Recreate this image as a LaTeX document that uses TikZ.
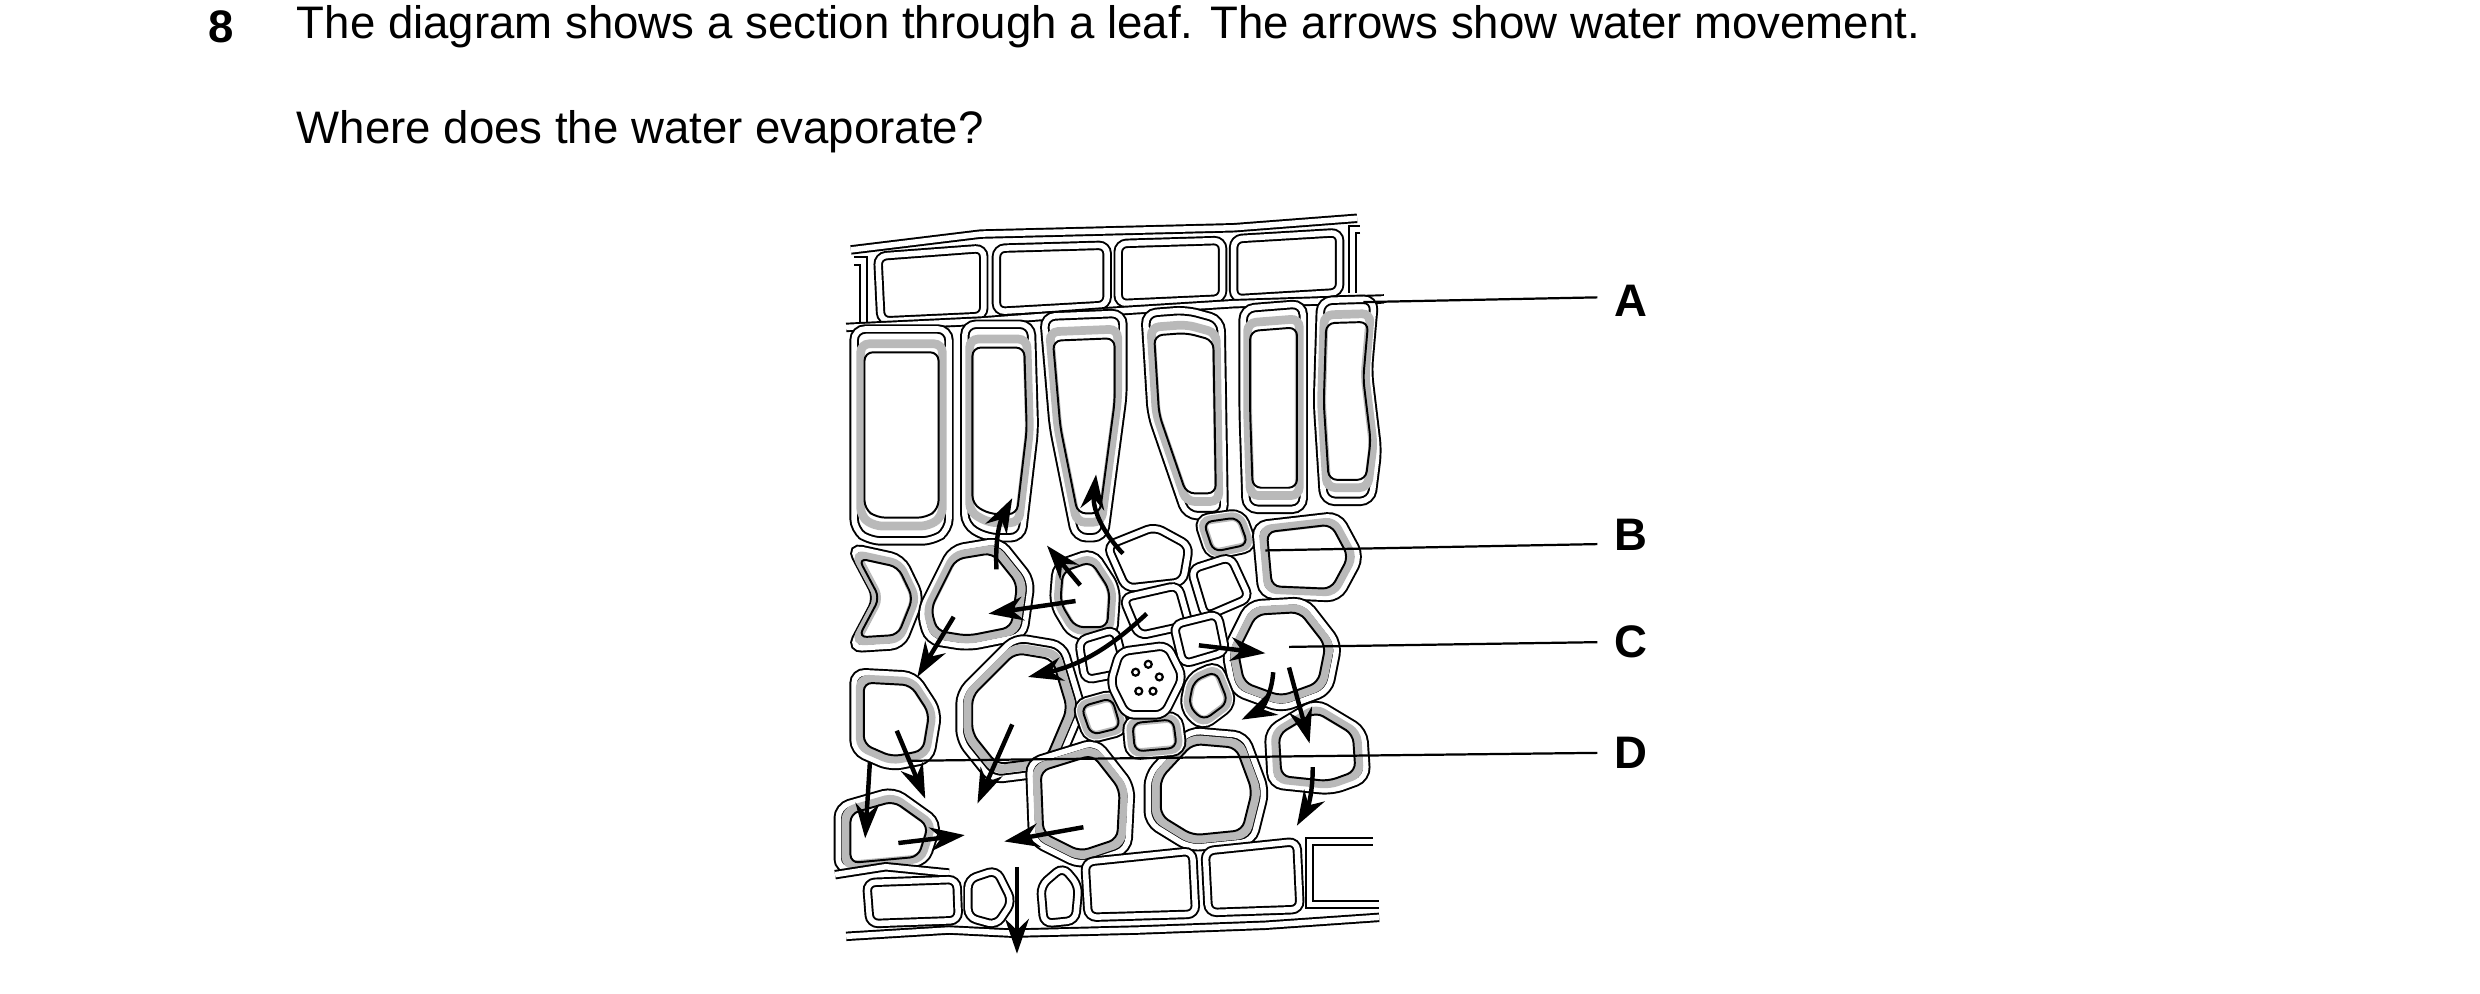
\documentclass[tikz,border=0pt]{standalone}
\usepackage{fontspec}
\setmainfont{Liberation Sans}
\usetikzlibrary{arrows.meta}
\newcommand\cellW[3]{\begin{scope}[shift={(#1,#2)}]\draw[wall,rounded corners=1.5pt] #3 -- cycle;\end{scope}}
\newcommand\cellG[3]{\begin{scope}[shift={(#1,#2)}]\draw[wall,rounded corners=2pt] #3 -- cycle;
\draw[gray!55,line width=0.55mm,rounded corners=1.5pt,scale=0.86] #3 -- cycle;
\draw[line width=0.35pt,rounded corners=1.5pt,scale=0.78] #3 -- cycle;\end{scope}}
\begin{document}
\begin{tikzpicture}[x=0.1mm,y=-0.1mm,
 wall/.style={draw=black,double=white,double distance=0.35mm,line width=0.35pt,fill=white},
 arr/.style={-{Stealth[length=2.2mm,width=1.5mm]},line width=0.8pt},
 lbl/.style={font=\fontsize{8.2}{10}\selectfont\bfseries},
 txt/.style={font=\fontsize{8.2}{10}\selectfont,inner sep=0pt,anchor=west},
 lead/.style={line width=0.4pt}]
\useasboundingbox (0,0) rectangle (1568,628);
\node[lbl,inner sep=0pt,anchor=west] (n8) at (131,17) {8};
\node[txt] (t1) at (187,17) {The diagram shows a section through a leaf. The arrows show water movement.};
\node[txt] (t2) at (187,83) {Where does the water evaporate?};
% upper epidermis
\draw[wall] (538,158) -- (620,148) -- (700,146) -- (780,144) -- (858,138);
\cellW{0}{0}{(555,162) -- (622,157) -- (622,200) -- (557,203)}
\cellW{0}{0}{(630,157) -- (700,155) -- (700,193) -- (630,197)}
\cellW{0}{0}{(707,154) -- (773,152) -- (773,189) -- (707,192)}
\cellW{0}{0}{(780,151) -- (847,147) -- (847,185) -- (780,189)}
\draw[wall] (540,165) -- (546,165) -- (546,205);
\draw[wall] (860,145) -- (855,145) -- (855,185);
\draw[wall] (535,207) -- (620,203) -- (700,197) -- (780,192) -- (875,189);
% palisade
\cellG{570}{275}{(-30,-67) -- (30,-67) -- (30,60) -- (20,67) -- (-20,67) -- (-30,60)}
\cellG{632}{272}{(-22,-67) -- (20,-67) -- (22,0) -- (14,68) -- (-8,68) -- (-22,60)}
\cellG{686}{270}{(-26,-70) -- (24,-72) -- (24,-20) -- (12,70) -- (-6,70) -- (-20,0)}
\cellG{750}{262}{(-26,-64) -- (0,-66) -- (22,-60) -- (24,64) -- (0,64) -- (-22,0)}
\cellG{806}{260}{(-20,-65) -- (18,-68) -- (18,62) -- (-18,62) -- (-20,0)}
\cellG{851}{255}{(-16,-65) -- (18,-66) -- (14,-20) -- (20,30) -- (16,62) -- (-14,62) -- (-18,0)}
% spongy cells
\cellG{560}{378}{(-22,-32) -- (10,-25) -- (22,0) -- (10,30) -- (-22,32) -- (-5,0)}
\cellG{612}{377}{(-30,10) -- (-10,-30) -- (20,-35) -- (40,-10) -- (35,25) -- (0,32) -- (-25,28)}
\cellG{642}{448}{(-35,-10) -- (0,-45) -- (30,-40) -- (42,0) -- (25,40) -- (-15,45) -- (-35,20)}
\cellG{686}{377}{(-18,-20) -- (5,-28) -- (20,-5) -- (18,25) -- (-8,25) -- (-20,5)}
\cellG{775}{338}{(-18,-10) -- (10,-14) -- (18,8) -- (-10,14)}
\cellG{826}{352}{(-32,-20) -- (20,-26) -- (34,0) -- (20,26) -- (-28,24)}
\cellG{810}{412}{(-35,0) -- (-20,-30) -- (15,-32) -- (36,-5) -- (30,25) -- (0,36) -- (-30,25)}
\cellG{832}{472}{(-30,-10) -- (0,-28) -- (30,-10) -- (32,20) -- (10,28) -- (-28,24)}
\cellG{683}{507}{(-32,-25) -- (10,-38) -- (32,-10) -- (30,30) -- (0,40) -- (-30,25)}
\cellG{762}{500}{(-36,-10) -- (-10,-38) -- (25,-35) -- (38,0) -- (30,32) -- (-10,36) -- (-36,20)}
\cellG{568}{455}{(-28,-30) -- (10,-28) -- (25,-5) -- (20,25) -- (-5,30) -- (-28,20)}
\cellG{565}{530}{(-35,-20) -- (0,-30) -- (28,-10) -- (20,15) -- (-35,20)}
% vein and bundle cells
\cellW{0}{0}{(700,345) -- (730,333) -- (752,345) -- (748,368) -- (712,372)}
\cellW{0}{0}{(710,378) -- (745,370) -- (752,395) -- (720,402)}
\cellW{0}{0}{(753,360) -- (778,352) -- (790,378) -- (762,390)}
\cellW{0}{0}{(682,405) -- (705,398) -- (712,425) -- (686,430)}
\cellW{0}{0}{(742,395) -- (770,388) -- (775,412) -- (748,420)}
\cellG{764}{440}{(-12,-12) -- (6,-20) -- (16,5) -- (-4,20) -- (-16,8)}
\cellG{696}{453}{(-16,-8) -- (9,-15) -- (16,9) -- (-8,15)}
\cellG{730}{465}{(-18,-10) -- (15,-13) -- (18,10) -- (-16,13)}
\cellW{0}{0}{(708,412) -- (738,408) -- (748,428) -- (736,452) -- (712,452) -- (702,432)}
\foreach \p in {(718,425),(726,420),(733,428),(720,437),(729,437)} \draw \p circle (2.2);
% lower epidermis
\draw[wall] (528,553) -- (560,548) -- (600,552);
\draw[wall] (535,592) -- (600,588) -- (640,590) -- (720,588) -- (800,585) -- (872,580);
\cellW{0}{0}{(548,558) -- (605,556) -- (606,582) -- (550,584)}
\cellW{0}{0}{(612,556) -- (630,550) -- (640,570) -- (630,585) -- (612,580)}
\cellW{0}{0}{(658,560) -- (672,548) -- (682,560) -- (680,582) -- (660,584)}
\cellW{0}{0}{(686,545) -- (754,538) -- (756,578) -- (688,580)}
\cellW{0}{0}{(762,538) -- (820,532) -- (822,575) -- (764,577)}
\draw[wall] (868,532) -- (828,532) -- (828,572) -- (872,572);
% arrows
\coordinate (a1) at (630,360); \coordinate (b1) at (640,315);
\draw[arr] (a1) to[bend left=15] (b1);
\coordinate (a2) at (710,350); \coordinate (b2) at (693,300);
\draw[arr] (a2) to[bend left=25] (b2);
\coordinate (a3) at (683,370); \coordinate (b3) at (662,345); \draw[arr] (a3) -- (b3);
\coordinate (a4) at (680,380); \coordinate (b4) at (625,388); \draw[arr] (a4) -- (b4);
\coordinate (a5) at (603,390); \coordinate (b5) at (580,428); \draw[arr] (a5) -- (b5);
\coordinate (a6) at (725,388); \coordinate (b6) at (650,428); \draw[arr] (a6) to[bend left=15] (b6);
\coordinate (a7) at (758,408); \coordinate (b7) at (800,413); \draw[arr] (a7) -- (b7);
\coordinate (a8) at (805,425); \coordinate (b8) at (785,455); \draw[arr] (a8) to[bend left=30] (b8);
\coordinate (a9) at (815,422); \coordinate (b9) at (828,470); \draw[arr] (a9) -- (b9);
\coordinate (a10) at (830,485); \coordinate (b10) at (820,522); \draw[arr] (a10) to[bend left=15] (b10);
\coordinate (a11) at (640,458); \coordinate (b11) at (618,508); \draw[arr] (a11) -- (b11);
\coordinate (a12) at (567,462); \coordinate (b12) at (585,505); \draw[arr] (a12) -- (b12);
\coordinate (a13) at (550,482); \coordinate (b13) at (547,530); \draw[arr] (a13) -- (b13);
\coordinate (a14) at (568,533); \coordinate (b14) at (610,528); \draw[arr] (a14) -- (b14);
\coordinate (a15) at (685,523); \coordinate (b15) at (635,532); \draw[arr] (a15) -- (b15);
\coordinate (a16) at (643,548); \coordinate (b16) at (643,603); \draw[arr] (a16) -- (b16);
% labels
\node[lbl] (A) at (1031,190) {A};
\node[lbl] (B) at (1031,338) {B};
\node[lbl] (C) at (1031,406) {C};
\node[lbl] (D) at (1031,476) {D};
\coordinate (pA) at (862,191); \coordinate (pB) at (800,348);
\coordinate (pC) at (815,409); \coordinate (pD) at (575,481);
\draw[lead] (1010,188) -- (pA);
\draw[lead] (1010,344) -- (pB);
\draw[lead] (1010,406) -- (pC);
\draw[lead] (1010,476) -- (pD);
\end{tikzpicture}
\end{document}
